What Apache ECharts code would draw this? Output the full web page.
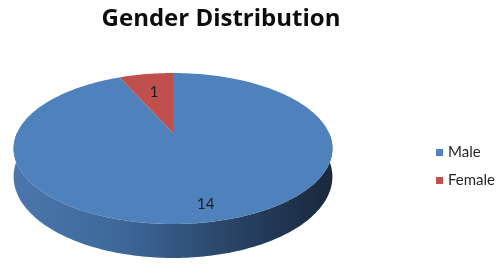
<!DOCTYPE html>
<html>
<head>
<meta charset="utf-8">
<script src="https://cdn.jsdelivr.net/npm/echarts@6/dist/echarts.min.js"></script>
<style>
html,body{margin:0;padding:0;background:#fff;}
#main{width:500px;height:272px;}
</style>
</head>
<body>
<div id="main"></div>
<script>
// ---- data ----
const titleText = 'Gender Distribution';
const categories = ['Male', 'Female'];
const values = [14, 1];
const sliceColors = ['#4F81BD', '#C0504D'];

// ---- 3D pie projection (layout) ----
const CX = 173, CY = 133, R = 156, T = 72.3, D = 4.87, H = 27;
const labelDist = [0.84, 0.66];
const total = values.reduce((a, b) => a + b, 0);
const starts = [];
{ let acc = 0; values.forEach(v => { starts.push(acc / total * Math.PI * 2); acc += v; }); }

function proj(theta, f) {
  const u = f * Math.sin(theta), v = f * Math.cos(theta);
  const s = D / (D + v);
  return [CX + R * u * s, CY - T * v * s, H * s];
}
function arcPts(a0, a1, f) {
  const pts = [];
  const n = Math.max(2, Math.ceil(Math.abs(a1 - a0) / (Math.PI / 180)));
  for (let i = 0; i <= n; i++) pts.push(proj(a0 + (a1 - a0) * i / n, f));
  return pts;
}

function makeRender(idx) {
  return function (params, api) {
    const a0 = starts[idx];
    const a1 = a0 + api.value(0) / total * Math.PI * 2;
    const children = [];
    // visible side (front half)
    const s0 = Math.max(a0, Math.PI / 2), s1 = Math.min(a1, Math.PI * 1.5);
    if (s1 > s0) {
      const top = arcPts(s0, s1, 1);
      const pts = top.map(p => [p[0], p[1]]);
      for (let i = top.length - 1; i >= 0; i--) pts.push([top[i][0], top[i][1] + top[i][2]]);
      children.push({
        type: 'polygon', shape: { points: pts },
        style: {
          fill: {
            type: 'linear', x: CX - R, y: 0, x2: CX + R, y2: 0, global: true,
            colorStops: [
              { offset: 0, color: '#4A76AD' },
              { offset: 0.35, color: '#3D6798' },
              { offset: 0.55, color: '#31527A' },
              { offset: 0.8, color: '#233956' },
              { offset: 1, color: '#1A293E' }
            ]
          }
        }
      });
    }
    // top face
    const face = [[CX, CY]].concat(arcPts(a0, a1, 1).map(p => [p[0], p[1]]));
    children.push({ type: 'polygon', shape: { points: face }, style: { fill: sliceColors[idx] } });
    // label
    const mid = (a0 + a1) / 2;
    const lp = proj(mid, labelDist[idx]);
    children.push({
      type: 'text',
      style: {
        text: String(api.value(0)), x: lp[0], y: lp[1],
        align: 'center', verticalAlign: 'middle',
        font: '15px Lato', fill: '#1C1C24'
      }
    });
    return { type: 'group', children: children };
  };
}

const chart = echarts.init(document.getElementById('main'), null, { renderer: 'canvas' });
chart.setOption({
  animation: false,
  backgroundColor: '#ffffff',
  title: {
    text: titleText, left: 216, top: 2, textAlign: 'center',
    textStyle: { fontFamily: 'Open Sans', fontWeight: 'bold', fontSize: 24, color: '#0D0D0D' }
  },
  legend: {
    orient: 'vertical', left: 431, top: 140,
    itemWidth: 7, itemHeight: 7, itemGap: 13, icon: 'rect',
    data: categories,
    textStyle: { fontFamily: 'Lato', fontSize: 15, color: '#262626' }
  },
  series: categories.map((name, i) => ({
    type: 'custom', name: name, coordinateSystem: 'none',
    itemStyle: { color: sliceColors[i] },
    data: [[values[i]]],
    renderItem: makeRender(i)
  }))
});
</script>
</body>
</html>
